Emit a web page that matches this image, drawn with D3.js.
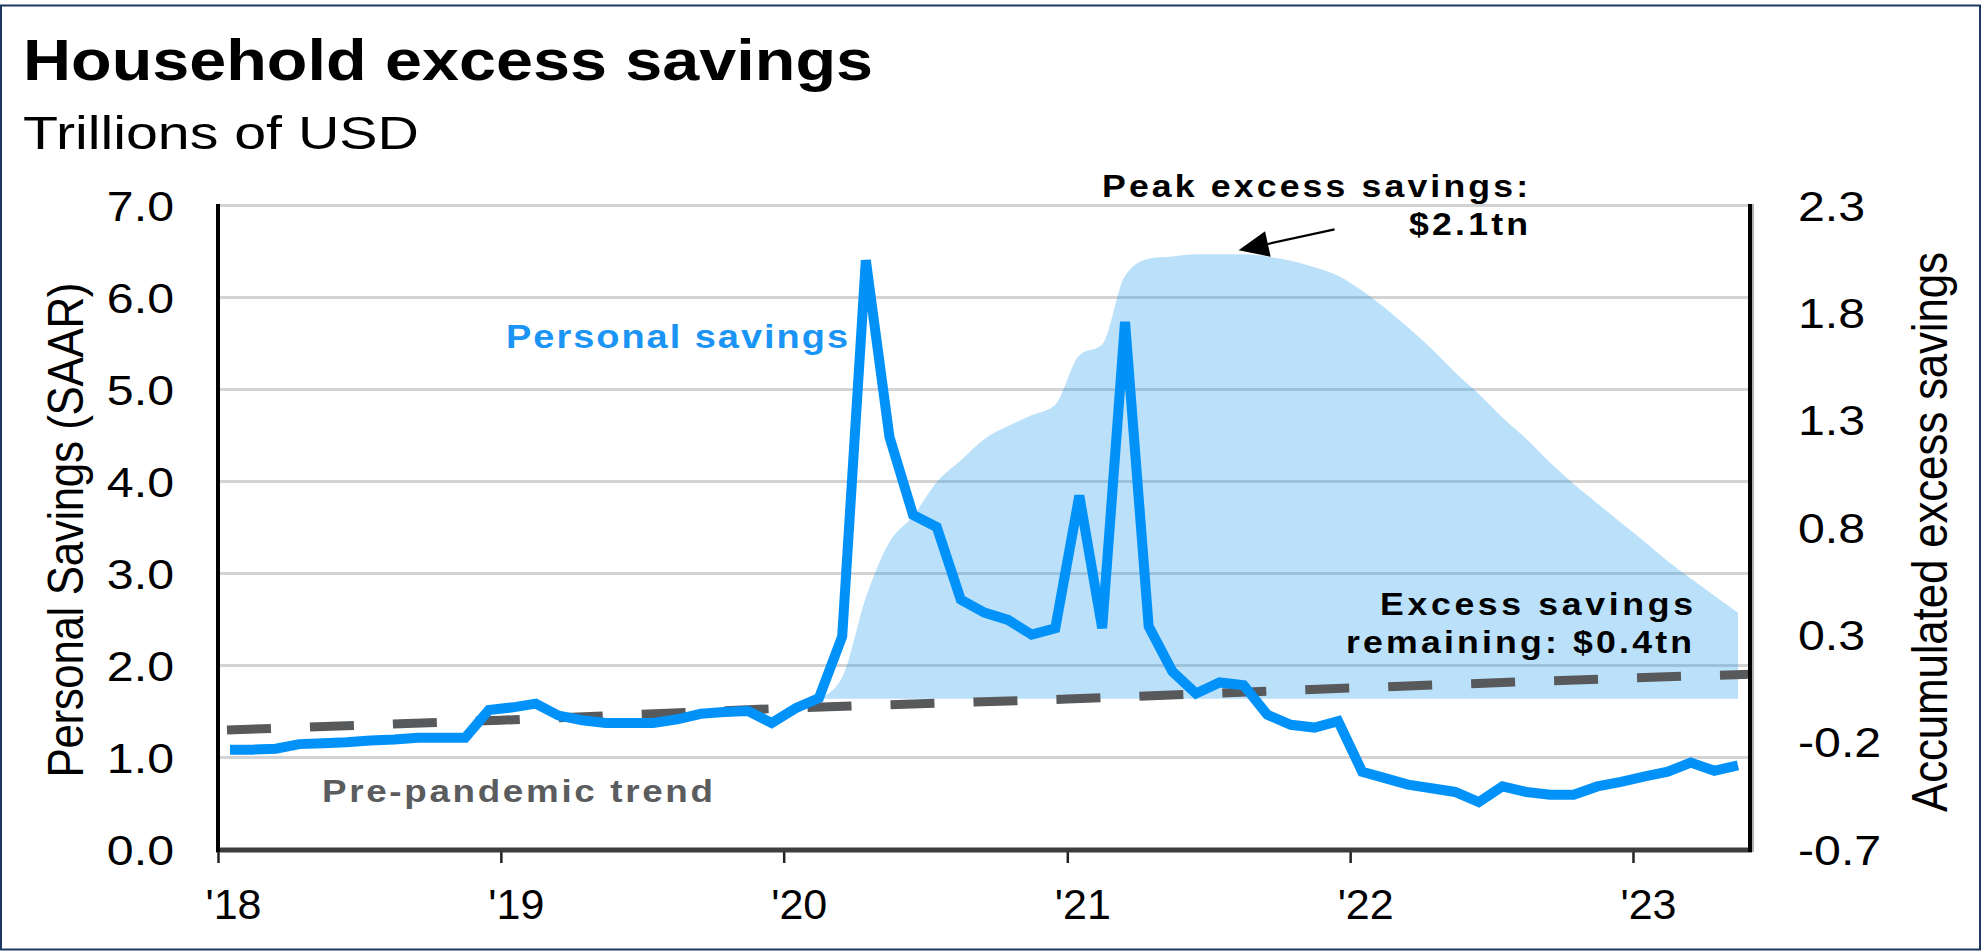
<!DOCTYPE html>
<html>
<head>
<meta charset="utf-8">
<script src="https://cdn.jsdelivr.net/npm/d3@7"></script>
<style>
  html, body { margin: 0; padding: 0; background: #ffffff; }
  svg { display: block; }
  text { font-family: "Liberation Sans", Arial, Helvetica, sans-serif; }
</style>
</head>
<body>
<svg id="chart" width="1983" height="952"></svg>
<script>
// ---- Data (trillions of USD) ----
const months = [
  "2018-01","2018-02","2018-03","2018-04","2018-05","2018-06","2018-07","2018-08","2018-09","2018-10","2018-11","2018-12",
  "2019-01","2019-02","2019-03","2019-04","2019-05","2019-06","2019-07","2019-08","2019-09","2019-10","2019-11","2019-12",
  "2020-01","2020-02","2020-03","2020-04","2020-05","2020-06","2020-07","2020-08","2020-09","2020-10","2020-11","2020-12",
  "2021-01","2021-02","2021-03","2021-04","2021-05","2021-06","2021-07","2021-08","2021-09","2021-10","2021-11","2021-12",
  "2022-01","2022-02","2022-03","2022-04","2022-05","2022-06","2022-07","2022-08","2022-09","2022-10","2022-11","2022-12",
  "2023-01","2023-02","2023-03","2023-04","2023-05"
];

// Personal savings, SAAR (left axis)
const personalSavings = [
  1.08, 1.08, 1.09, 1.14, 1.15, 1.16, 1.18, 1.19, 1.21, 1.21, 1.21, 1.51,
  1.54, 1.58, 1.45, 1.40, 1.37, 1.37, 1.37, 1.41, 1.47, 1.49, 1.50, 1.37,
  1.53, 1.64, 2.31, 6.40, 4.48, 3.63, 3.50, 2.71, 2.57, 2.49, 2.33, 2.40,
  3.84, 2.40, 5.73, 2.42, 1.93, 1.69, 1.81, 1.78, 1.46, 1.35, 1.32, 1.39,
  0.84, 0.77, 0.70, 0.66, 0.62, 0.51, 0.68, 0.62, 0.59, 0.59, 0.68, 0.73,
  0.79, 0.84, 0.94, 0.85, 0.91
];

// Accumulated excess savings (right axis), from February 2020
const excessStart = "2020-02";
const excessSavings = [
  0.00, 0.10, 0.47, 0.73, 0.85, 1.01, 1.11, 1.21, 1.27, 1.32, 1.37,
  1.60, 1.65, 1.97, 2.05, 2.06, 2.07, 2.07, 2.07, 2.06, 2.04, 2.01, 1.97,
  1.90, 1.82, 1.73, 1.63, 1.52, 1.42, 1.31, 1.21, 1.10, 1.00, 0.91, 0.82,
  0.73, 0.64, 0.56, 0.48, 0.40
];

// Pre-pandemic trend (left axis)
const trendDates  = ["2018-01-01","2019-01-01","2020-01-01","2021-01-01","2022-01-01","2023-01-01","2023-06-01"];
const trendValues = [1.29, 1.40, 1.53, 1.63, 1.75, 1.86, 1.90];

// Axis ticks
const leftTicks  = [0, 1, 2, 3, 4, 5, 6, 7];
const rightTicks = [-0.7, -0.2, 0.3, 0.8, 1.3, 1.8, 2.3];
const yearTicks  = ["2018-01-01","2019-01-01","2020-01-01","2021-01-01","2022-01-01","2023-01-01"];
const yearLabels = ["'18","'19","'20","'21","'22","'23"];

// ---- Layout ----
const svg = d3.select("#chart");
const P = { left: 218, right: 1750, top: 205, bottom: 849 };
const STRETCH = 1.15;   // wide lettering used throughout the chart

const parseMonth = d3.timeParse("%Y-%m");
const parseDay = d3.timeParse("%Y-%m-%d");
const midMonth = s => { const d = parseMonth(s); return new Date((+d + +d3.timeMonth.offset(d, 1)) / 2); };

const x  = d3.scaleTime().domain([new Date(2018, 0, 1), new Date(2023, 5, 1)]).range([P.left, P.right]);
const yL = d3.scaleLinear().domain([0, 7]).range([P.bottom, P.top]);
const yR = d3.scaleLinear().domain([-0.7, 2.3]).range([P.bottom, P.top]);

const savingsData = months.map((m, i) => ({ date: midMonth(m), value: personalSavings[i] }));
const excessMonths = months.slice(months.indexOf(excessStart));
const excessData = excessMonths.map((m, i) => ({ date: midMonth(m), value: excessSavings[i] }));
const trendData = trendDates.map((d, i) => ({ date: parseDay(d), value: trendValues[i] }));

// text helper: glyph stretch + optional fitted length
function addText(g, txt, x0, y0, o) {
  const sx = o.sx || 1;
  const t = g.append("text")
    .attr("transform", `translate(${x0},${y0}) scale(${sx},1)` + (o.rotate ? ` rotate(${o.rotate})` : ""))
    .attr("text-anchor", o.anchor || "start")
    .attr("fill", o.fill || "#000")
    .style("font-size", o.size + "px")
    .style("font-weight", o.weight || "normal")
    .text(txt);
  if (o.width) {
    t.attr("textLength", o.width / (o.rotate ? 1 : sx))
     .attr("lengthAdjust", o.adjust || "spacing");
  }
  return t;
}

// Frame
svg.append("rect")
  .attr("x", 1).attr("y", 5.5).attr("width", 1979).attr("height", 944)
  .attr("fill", "none").attr("stroke", "#1f3763").attr("stroke-width", 2);

// Title & subtitle
addText(svg, "Household excess savings", 23, 80, { size: 58, weight: "bold", width: 850, adjust: "spacingAndGlyphs" });
addText(svg, "Trillions of USD", 23, 149, { size: 46, width: 396, adjust: "spacingAndGlyphs" });

// Gridlines
const grid = svg.append("g").attr("transform", `translate(${P.left},0)`)
  .call(d3.axisLeft(yL).tickValues(leftTicks.filter(v => v > 0)).tickSize(-(P.right - P.left)).tickFormat(""));
grid.select(".domain").remove();
grid.selectAll(".tick line").attr("stroke", "#d3d3d3").attr("stroke-width", 3);

// Accumulated excess savings area (semi-transparent, over gridlines)
const area = d3.area()
  .x(d => x(d.date))
  .y0(yR(0))
  .y1(d => yR(d.value))
  .curve(d3.curveMonotoneX);
svg.append("path").datum(excessData)
  .attr("d", area)
  .attr("fill", "#1997ee").attr("fill-opacity", 0.3);

// Pre-pandemic trend (dashed)
const trendLine = d3.line().x(d => x(d.date)).y(d => yL(d.value));
svg.append("path").datum(trendData)
  .attr("d", trendLine)
  .attr("fill", "none").attr("stroke", "#58595b").attr("stroke-width", 9)
  .attr("stroke-dasharray", "44,39").attr("stroke-dashoffset", 74);

// Personal savings line
const savingsLine = d3.line().x(d => x(d.date)).y(d => yL(d.value));
svg.append("path").datum(savingsData)
  .attr("d", savingsLine)
  .attr("fill", "none").attr("stroke", "#0092f8").attr("stroke-width", 10);

// Left axis labels
const leftAxis = svg.append("g").attr("transform", `translate(${P.left},0)`)
  .call(d3.axisLeft(yL).tickValues(leftTicks).tickSize(0).tickFormat(d => d.toFixed(1)));
leftAxis.select(".domain").remove();
leftAxis.selectAll(".tick text")
  .attr("x", null).attr("dy", "0.36em")
  .attr("transform", `translate(-44,0) scale(${STRETCH},1)`)
  .attr("fill", "#000")
  .style("font-size", "42px")
  .style("font-family", "'Liberation Sans', Arial, sans-serif");

// Right axis labels
const rightAxis = svg.append("g").attr("transform", `translate(${P.right},0)`)
  .call(d3.axisRight(yR).tickValues(rightTicks).tickSize(0).tickFormat(d => d.toFixed(1)));
rightAxis.select(".domain").remove();
rightAxis.selectAll(".tick text")
  .attr("x", null).attr("dy", "0.36em")
  .attr("transform", `translate(48,0) scale(${STRETCH},1)`)
  .attr("fill", "#000")
  .style("font-size", "42px")
  .style("font-family", "'Liberation Sans', Arial, sans-serif");

// Bottom axis
const bottomAxis = svg.append("g").attr("transform", `translate(0,${P.bottom})`)
  .call(d3.axisBottom(x).tickValues(yearTicks.map(parseDay)).tickSizeInner(14).tickSizeOuter(0)
    .tickPadding(25).tickFormat((d, i) => yearLabels[i]));
bottomAxis.select(".domain").remove();
bottomAxis.selectAll(".tick line").attr("stroke", "#222").attr("stroke-width", 2.5);
bottomAxis.selectAll(".tick text")
  .attr("dx", 15)
  .attr("fill", "#000")
  .style("font-size", "43px")
  .style("font-family", "'Liberation Sans', Arial, sans-serif");

// Axis lines
svg.append("line").attr("x1", P.left - 2).attr("x2", P.right + 2).attr("y1", P.bottom + 1).attr("y2", P.bottom + 1)
  .attr("stroke", "#3d3d3d").attr("stroke-width", 5);
svg.append("line").attr("x1", P.left).attr("x2", P.left).attr("y1", P.top - 1).attr("y2", P.bottom + 3)
  .attr("stroke", "#000").attr("stroke-width", 4);
svg.append("line").attr("x1", P.right + 3).attr("x2", P.right + 3).attr("y1", P.top - 1).attr("y2", P.bottom + 3)
  .attr("stroke", "#b0b0b0").attr("stroke-width", 2);
svg.append("line").attr("x1", P.right).attr("x2", P.right).attr("y1", P.top - 1).attr("y2", P.bottom + 3)
  .attr("stroke", "#000").attr("stroke-width", 4);

// Axis titles
addText(svg, "Personal Savings (SAAR)", 83, 530, { size: 44, anchor: "middle", rotate: -90, sx: STRETCH, width: 495 });
addText(svg, "Accumulated excess savings", 1947, 532, { size: 44, anchor: "middle", rotate: -90, sx: STRETCH, width: 560 });

// Series labels
addText(svg, "Personal savings", 506, 348, { size: 33, weight: "bold", fill: "#1a94f5", sx: STRETCH, width: 342 });
addText(svg, "Pre-pandemic trend", 322, 802, { size: 32, weight: "bold", fill: "#5b5c5e", sx: STRETCH, width: 391 });

// Peak annotation with arrow
const peak = d3.max(excessSavings);
const last = excessSavings[excessSavings.length - 1];
addText(svg, "Peak excess savings:", 1528, 197, { size: 31, weight: "bold", anchor: "end", sx: STRETCH, width: 426 });
addText(svg, `$${peak.toFixed(1)}tn`, 1528, 235, { size: 31, weight: "bold", anchor: "end", sx: STRETCH, width: 119 });

const tip = [x(new Date(2021, 7, 10)), yR(peak) - 4];
const tail = [tip[0] + 96, tip[1] - 21];
const len = Math.hypot(tail[0] - tip[0], tail[1] - tip[1]);
const ux = (tail[0] - tip[0]) / len, uy = (tail[1] - tip[1]) / len;
const headLen = 30, headHalf = 13;
const base = [tip[0] + ux * headLen, tip[1] + uy * headLen];
svg.append("line")
  .attr("x1", tail[0]).attr("y1", tail[1]).attr("x2", base[0]).attr("y2", base[1])
  .attr("stroke", "#000").attr("stroke-width", 2.2);
svg.append("path")
  .attr("d", `M${tip[0]},${tip[1]}L${base[0] - uy * headHalf},${base[1] + ux * headHalf}L${base[0] + uy * headHalf},${base[1] - ux * headHalf}Z`)
  .attr("fill", "#000");

// Remaining annotation
addText(svg, "Excess savings", 1693, 615, { size: 31, weight: "bold", anchor: "end", sx: STRETCH, width: 313 });
addText(svg, `remaining: $${last.toFixed(1)}tn`, 1692, 653, { size: 31, weight: "bold", anchor: "end", sx: STRETCH, width: 346 });
</script>
</body>
</html>
